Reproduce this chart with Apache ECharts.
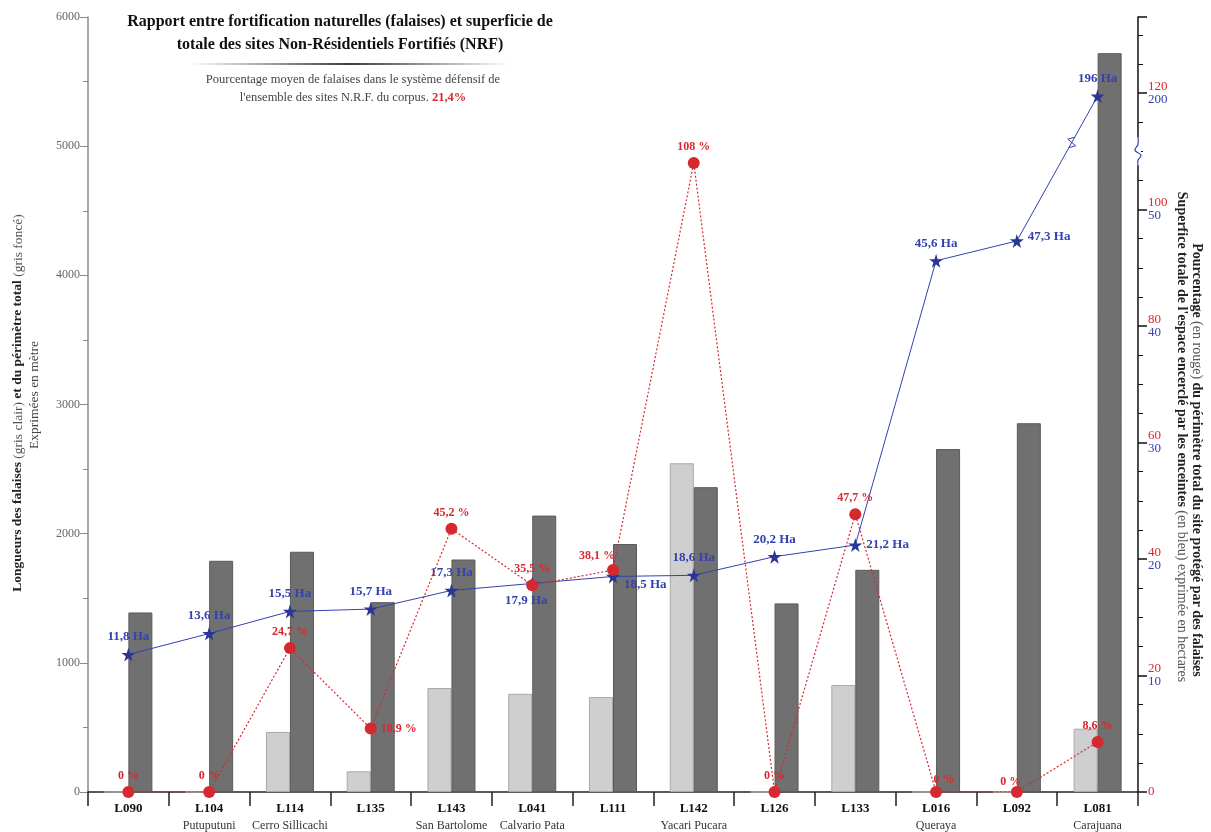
<!DOCTYPE html>
<html>
<head>
<meta charset="utf-8">
<script src="https://cdn.jsdelivr.net/npm/echarts@6/dist/echarts.min.js"></script>
<style>html,body{margin:0;padding:0;background:#fff}#c{width:1211px;height:832px}</style>
</head>
<body>
<div id="c"></div>
<script>
// ---------- DATA ----------
const codes = ['L090','L104','L114','L135','L143','L041','L111','L142','L126','L133','L016','L092','L081'];
const siteNames = ['', 'Putuputuni', 'Cerro Sillicachi', '', 'San Bartolome', 'Calvario Pata', '', 'Yacari Pucara', '', '', 'Queraya', '', 'Carajuana'];
const cliffLength = [0, 0, 465, 160, 805, 760, 735, 2545, 0, 828, 0, 0, 490];          // gris clair (m)
const totalPerimeter = [1390, 1790, 1860, 1470, 1800, 2140, 1920, 2360, 1460, 1720, 2655, 2855, 5720]; // gris foncé (m)
const cliffPercent = [0, 0, 24.7, 10.9, 45.2, 35.5, 38.1, 108, 0, 47.7, 0, 0, 8.6];   // rouge (%)
const areaHa = [11.8, 13.6, 15.5, 15.7, 17.3, 17.9, 18.5, 18.6, 20.2, 21.2, 45.6, 47.3, 196]; // bleu (ha)
const leftTicks = [0, 1000, 2000, 3000, 4000, 5000, 6000];
const rightTicksPct = [0, 20, 40, 60, 80, 100, 120];
const rightTicksHa = [0, 10, 20, 30, 40, 50, 200];

// ---------- STYLE ----------
const SERIF = '"Liberation Serif", "DejaVu Serif", serif';
const RED = '#d8282f';
const BLUE = '#3342b0';
const BLUE_DARK = '#2a3596';
const bluePos = ['top','top','top','top','top','bottom','right','top','top','right','top','right','top'];
const blueOff = [[0,0],[0,0],[0,0],[0,0],[0,0],[-6,0],[0,8],[0,0],[0,0],[0,0],[0,0],[0,-4],[0,0]];
const redPos = ['top','top','top','right','top','top','top','top','top','top','top','top','top'];
const redOff = [[0,0],[0,0],[0,0],[0,0],[0,0],[0,0],[-16,2],[0,0],[0,0],[0,0],[8,4],[-6,6],[0,0]];

// broken axis for hectares: 0-50 ha -> 0-100 on the right axis, 50-200 ha compressed into 100-120
function haToAxis(v) { return v <= 50 ? v * 2 : 100 + (v - 50) * 20 / 150; }
const fmtNum = v => String(v).replace('.', ',');

const chart = echarts.init(document.getElementById('c'));
const GRID = { left: 88, right: 73, top: 17, bottom: 40 };
const RIGHT_MAX = 120 * 775 / 699;

const option = {
  animation: false,
  backgroundColor: '#fff',
  textStyle: { fontFamily: SERIF },
  grid: GRID,
  xAxis: {
    type: 'category',
    data: codes,
    axisLine: { lineStyle: { color: '#222', width: 1.5 } },
    axisTick: { show: true, length: 14, lineStyle: { color: '#222', width: 1.5 } },
    axisLabel: {
      margin: 8,
      interval: 0,
      formatter: (v, i) => siteNames[i] ? '{c|' + v + '}\n{s|' + siteNames[i] + '}' : '{c|' + v + '}',
      rich: {
        c: { fontFamily: SERIF, fontWeight: 'bold', fontSize: 13, color: '#111', lineHeight: 18 },
        s: { fontFamily: SERIF, fontSize: 12, color: '#333', lineHeight: 16 }
      }
    }
  },
  yAxis: [
    {
      type: 'value', min: 0, max: 6000, interval: 1000, position: 'left',
      axisLine: { show: true, lineStyle: { color: '#8a8a8a', width: 1.5 } },
      axisTick: { show: true, length: 8, lineStyle: { color: '#8a8a8a' } },
      minorTick: { show: true, splitNumber: 2, length: 5, lineStyle: { color: '#8a8a8a' } },
      splitLine: { show: false },
      axisLabel: { fontFamily: SERIF, fontSize: 12, color: '#666', margin: 8,
        formatter: v => leftTicks.indexOf(v) >= 0 ? String(v) : '' }
    },
    {
      type: 'value', min: 0, max: RIGHT_MAX, interval: 20, position: 'right',
      axisLine: { show: true, lineStyle: { color: '#111', width: 1.5 } },
      axisTick: { show: true, length: 9, lineStyle: { color: '#111', width: 1.5 } },
      minorTick: { show: true, splitNumber: 4, length: 5, lineStyle: { color: '#111' } },
      splitLine: { show: false },
      axisLabel: {
        margin: 10,
        formatter: v => {
          const i = rightTicksPct.indexOf(Math.round(v * 1000) / 1000);
          if (i < 0) return '';
          if (i === 0) return '{r|' + rightTicksPct[i] + '}';
          return '{r|' + rightTicksPct[i] + '}\n{b|' + rightTicksHa[i] + '}';
        },
        rich: {
          r: { fontFamily: SERIF, fontSize: 13, color: RED, lineHeight: 13 },
          b: { fontFamily: SERIF, fontSize: 13, color: BLUE, lineHeight: 13 }
        }
      }
    }
  ],
  series: [
    {
      name: 'falaises', type: 'bar', yAxisIndex: 0, data: cliffLength,
      barWidth: 24, barGap: '0%',
      itemStyle: { color: '#cfcfcf', borderColor: '#a8a8a8', borderWidth: 1 }
    },
    {
      name: 'périmètre', type: 'bar', yAxisIndex: 0, data: totalPerimeter,
      barWidth: 24, barGap: '0%',
      itemStyle: { color: '#707070', borderColor: '#5a5a5a', borderWidth: 1 }
    },
    {
      name: 'superficie', type: 'line', yAxisIndex: 1, z: 4,
      data: areaHa.map((v, i) => ({
        value: haToAxis(v),
        label: { position: bluePos[i], offset: blueOff[i] }
      })),
      symbol: 'path://M50,0 L61,35 L98,35 L68,57 L79,91 L50,70 L21,91 L32,57 L2,35 L39,35 Z',
      symbolSize: 14,
      itemStyle: { color: BLUE_DARK },
      lineStyle: { color: BLUE, width: 1 },
      label: {
        show: true, fontFamily: SERIF, fontSize: 13, color: BLUE, fontWeight: 'bold',
        formatter: p => fmtNum(areaHa[p.dataIndex]) + ' Ha', distance: 4
      }
    },
    {
      name: 'pourcentage', type: 'line', yAxisIndex: 1, z: 5,
      data: cliffPercent.map((v, i) => ({
        value: v,
        label: { position: redPos[i], offset: redOff[i] }
      })),
      symbol: 'circle', symbolSize: 12,
      itemStyle: { color: RED },
      lineStyle: { color: RED, width: 1.2, type: [2, 2] },
      label: {
        show: true, fontFamily: SERIF, fontSize: 12, color: RED, fontWeight: 'bold',
        formatter: p => fmtNum(cliffPercent[p.dataIndex]) + ' %', distance: 4
      }
    }
  ]
};
chart.setOption(option);

// ---------- decorations (titles, axis names, axis breaks) ----------
const axisX = 1211 - GRID.right;
const breakY = chart.convertToPixel({ yAxisIndex: 1 }, 110);
const pA = chart.convertToPixel({ seriesIndex: 2 }, [11, haToAxis(areaHa[11])]);
const pB = chart.convertToPixel({ seriesIndex: 2 }, [12, haToAxis(areaHa[12])]);
const t = 0.68;
const P = [pA[0] + (pB[0] - pA[0]) * t, pA[1] + (pB[1] - pA[1]) * t];
const L = Math.hypot(pB[0] - pA[0], pB[1] - pA[1]);
const d = [(pB[0] - pA[0]) / L, (pB[1] - pA[1]) / L];
const n = [-d[1], d[0]];

const graphics = [
  { type: 'text', x: 340, y: 22, style: { text: 'Rapport entre fortification naturelles (falaises) et superficie de', font: 'bold 16px ' + SERIF, fill: '#111', align: 'center', verticalAlign: 'middle' } },
  { type: 'text', x: 340, y: 45, style: { text: 'totale des sites Non-Résidentiels Fortifiés (NRF)', font: 'bold 16px ' + SERIF, fill: '#111', align: 'center', verticalAlign: 'middle' } },
  { type: 'rect', shape: { x: 190, y: 63, width: 320, height: 2 },
    style: { fill: new echarts.graphic.LinearGradient(0, 0, 1, 0, [
      { offset: 0, color: 'rgba(60,60,60,0)' }, { offset: 0.5, color: 'rgba(60,60,60,1)' }, { offset: 1, color: 'rgba(60,60,60,0)' }]) } },
  { type: 'text', x: 353, y: 80, style: { text: 'Pourcentage moyen de falaises dans le système défensif de', font: '12.5px ' + SERIF, fill: '#444', align: 'center', verticalAlign: 'middle' } },
  { type: 'text', x: 353, y: 98, style: { text: "{a|l'ensemble des sites N.R.F. du corpus. }{b|21,4%}", align: 'center', verticalAlign: 'middle',
    rich: { a: { fontFamily: SERIF, fontSize: 12.5, fill: '#444' }, b: { fontFamily: SERIF, fontSize: 12.5, fontWeight: 'bold', fill: RED } } } },
  // left axis name
  { type: 'text', x: 18, y: 403, rotation: Math.PI / 2,
    style: { text: '{b|Longueurs des falaises }{n|(gris clair)}{b| et du périmètre total }{n|(gris foncé)}', align: 'center', verticalAlign: 'middle',
      rich: { b: { fontFamily: SERIF, fontSize: 13.5, fontWeight: 'bold', fill: '#222' }, n: { fontFamily: SERIF, fontSize: 13.5, fill: '#555' } } } },
  { type: 'text', x: 34, y: 395, rotation: Math.PI / 2,
    style: { text: 'Exprimées en mètre', font: '13.5px ' + SERIF, fill: '#444', align: 'center', verticalAlign: 'middle' } },
  // right axis names
  { type: 'text', x: 1197, y: 460, rotation: -Math.PI / 2,
    style: { text: '{b|Pourcentage }{n|(en rouge)}{b| du périmètre total du site protégé par des falaises}', align: 'center', verticalAlign: 'middle',
      rich: { b: { fontFamily: SERIF, fontSize: 14, fontWeight: 'bold', fill: '#222' }, n: { fontFamily: SERIF, fontSize: 14, fill: '#555' } } } },
  { type: 'text', x: 1182, y: 437, rotation: -Math.PI / 2,
    style: { text: "{b|Superfice totale de l'espace encerclé par les enceintes }{n|(en bleu) exprimée en hectares}", align: 'center', verticalAlign: 'middle',
      rich: { b: { fontFamily: SERIF, fontSize: 14, fontWeight: 'bold', fill: '#222' }, n: { fontFamily: SERIF, fontSize: 14, fill: '#555' } } } },
  // break on right axis
  { type: 'rect', z: 100, shape: { x: axisX - 3, y: breakY - 14, width: 6, height: 28 }, style: { fill: '#fff' } },
  { type: 'polyline', z: 101, shape: { points: [[axisX, breakY - 14], [axisX, breakY - 7], [axisX - 3, breakY - 1], [axisX + 3, breakY + 4], [axisX, breakY + 9], [axisX, breakY + 14]], smooth: 0.4 },
    style: { stroke: BLUE, lineWidth: 1.2, fill: null } },
  // break on the hectare line
  { type: 'polyline', z: 100, shape: { points: [
      [P[0] - d[0] * 6, P[1] - d[1] * 6],
      [P[0] - d[0] * 1 + n[0] * 5, P[1] - d[1] * 1 + n[1] * 5],
      [P[0] + d[0] * 1 - n[0] * 5, P[1] + d[1] * 1 - n[1] * 5],
      [P[0] + d[0] * 6, P[1] + d[1] * 6]] },
    style: { stroke: BLUE, lineWidth: 1, fill: null } }
];
chart.setOption({ graphic: { elements: graphics } });
</script>
</body>
</html>
